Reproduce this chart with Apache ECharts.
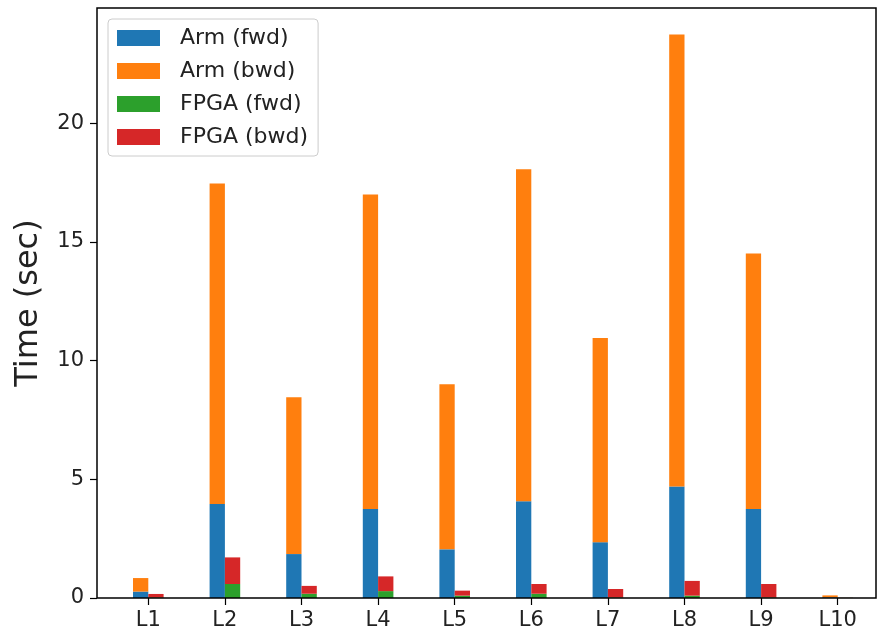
<!DOCTYPE html>
<html>
<head>
<meta charset="utf-8">
<script src="https://cdn.jsdelivr.net/npm/echarts@6/dist/echarts.min.js"></script>
<style>
  html, body { margin: 0; padding: 0; background: #fff; }
  #chart { width: 877px; height: 634px; }
</style>
</head>
<body>
<div id="chart"></div>
<script>
// Per-layer execution time (seconds), forward and backward passes
const layers = ['L1', 'L2', 'L3', 'L4', 'L5', 'L6', 'L7', 'L8', 'L9', 'L10'];
const armFwd  = [0.27, 3.96, 1.85, 3.75, 2.05, 4.08, 2.35, 4.70, 3.75, 0.03];
const armBwd  = [0.57, 13.50, 6.61, 13.25, 6.95, 13.98, 8.60, 19.03, 10.76, 0.08];
const fpgaFwd = [0.02, 0.59, 0.18, 0.29, 0.10, 0.18, 0.02, 0.10, 0.02, 0.005];
const fpgaBwd = [0.15, 1.12, 0.33, 0.62, 0.21, 0.41, 0.36, 0.62, 0.57, 0.005];
const yTicks  = [0, 5, 10, 15, 20];
const yMax = 24.85;

const FONT = 'DejaVu Sans';
const TEXT = '#222';

const chart = echarts.init(document.getElementById('chart'), null, { renderer: 'canvas' });

function barSeries(name, data, stack, color) {
  return {
    name: name,
    type: 'bar',
    stack: stack,
    xAxisIndex: 1,
    yAxisIndex: 1,
    data: data,
    barWidth: 15.3,
    barGap: '0%',
    itemStyle: { color: color },
    emphasis: { disabled: true },
    animation: false
  };
}

chart.setOption({
  animation: false,
  textStyle: { fontFamily: FONT },
  grid: [
    // outer frame (spines)
    { left: 97, top: 8, width: 779, height: 590, show: true,
      borderColor: '#000', borderWidth: 1.5, backgroundColor: 'transparent', z: 5 },
    // plotting grid for the bars
    { left: 110, top: 8, width: 766, height: 590 }
  ],
  legend: {
    left: 108, top: 19,
    orient: 'vertical',
    icon: 'rect',
    itemWidth: 43, itemHeight: 16,
    itemGap: 11,
    padding: [8, 10, 8, 9],
    backgroundColor: 'rgba(255,255,255,0.8)',
    borderColor: '#ccc', borderWidth: 1, borderRadius: 4,
    textStyle: { fontFamily: FONT, fontSize: 22, color: TEXT, padding: [0, 0, 0, 15] },
    data: ['Arm (fwd)', 'Arm (bwd)', 'FPGA (fwd)', 'FPGA (bwd)']
  },
  xAxis: [
    { gridIndex: 0, type: 'value', min: 0, max: 1, show: false },
    {
      gridIndex: 1, type: 'category', data: layers,
      axisLine: { show: false },
      axisTick: { show: true, alignWithLabel: true, length: 7, lineStyle: { color: '#000', width: 1.2 } },
      axisLabel: { fontFamily: FONT, fontSize: 21, color: TEXT, margin: 12 },
      splitLine: { show: false }
    }
  ],
  yAxis: [
    { gridIndex: 0, type: 'value', min: 0, max: 1, show: false },
    {
      gridIndex: 1, type: 'value', min: 0, max: yMax, interval: 5,
      offset: 13,
      axisLine: { show: false },
      axisTick: { show: true, length: 7, customValues: yTicks, lineStyle: { color: '#000', width: 1.2 } },
      axisLabel: { fontFamily: FONT, fontSize: 21, color: TEXT, margin: 13,
        customValues: yTicks },
      splitLine: { show: false },
      name: 'Time (sec)',
      nameLocation: 'middle',
      nameGap: 52,
      nameTextStyle: { fontFamily: FONT, fontSize: 32, color: TEXT }
    }
  ],
  series: [
    barSeries('Arm (fwd)', armFwd, 'arm', '#1f77b4'),
    barSeries('Arm (bwd)', armBwd, 'arm', '#ff7f0e'),
    barSeries('FPGA (fwd)', fpgaFwd, 'fpga', '#2ca02c'),
    barSeries('FPGA (bwd)', fpgaBwd, 'fpga', '#d62728')
  ]
});
</script>
</body>
</html>
